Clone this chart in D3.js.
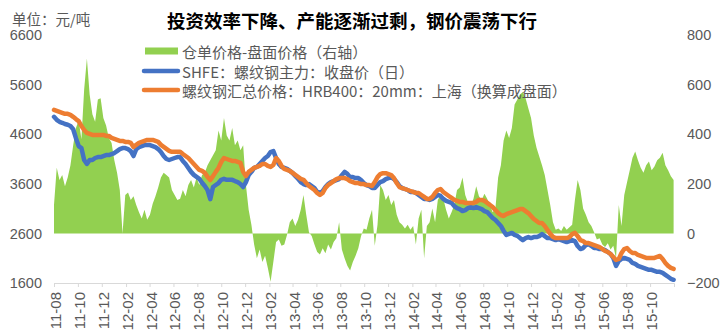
<!DOCTYPE html>
<html>
<head>
<meta charset="utf-8">
<script src="https://cdn.jsdelivr.net/npm/d3@7"></script>
<style>
  html, body { margin: 0; padding: 0; background: #fff; }
  svg { display: block; }
  .cjk { font-family: "Noto Sans CJK SC", sans-serif; }
  .num { font-family: "Liberation Sans", Arial, sans-serif; }
</style>
</head>
<body>
<svg id="chart" width="725" height="336"></svg>
<script>
// Weekly observations, first Monday of Aug 2011 through the end of Nov 2015
const firstWeek = new Date(2011, 7, 1);
const lastWeekEnd = new Date(2015, 11, 1);
const weeks = d3.timeMonday.range(firstWeek, lastWeekEnd);

// 仓单价格-盘面价格 (right axis, 元/吨)
const spread = [
  115, 265, 215, 235, 190, 225, 275, 355, 425, 455,
  380, 580, 705, 560, 480, 450, 540, 545, 465, 435,
  385, 365, 295, 245, 175, 0, 155, 165, 135, 150,
  115, 85, 60, 95, 55, 75, 120, 150, 185, 225,
  245, 235, 225, 175, 155, 135, 140, 175, 150, 195,
  215, 185, 225, 195, 235, 245, 275, 295, 315, 335,
  415, 375, 465, 395, 375, 425, 355, 375, 335, 355,
  195, 95, 35, -45, -100, -65, -115, -90, -140, -195,
  -115, -35, -25, -50, -45, -5, 45, 60, 30, 55,
  95, 155, 75, 5, -10, -45, -75, -85, -60, -80,
  -45, -65, -35, -20, 45, -65, -100, -130, -150, -115,
  -90, -60, -10, 20, 15, 60, 95, -50, 35, 195,
  175, 135, 155, 115, 135, 75, 45, 35, 20, 35,
  15, 30, -45, 60, 95, -100, 30, 45, 100, 45,
  135, 155, 140, 95, 60, 85, 115, 175, 185, 225,
  155, 125, 110, 140, 190, 150, 135, 160, 140, 115,
  85, 100, 225, 275, 375, 415, 385, 425, 520, 540,
  560, 570, 545, 505, 465, 395, 345, 310, 275, 235,
  175, 115, 45, 15, 20, 10, 30, 15, 25, 35,
  135, 215, 175, 100, 75, 45, 30, 5, -25, -20,
  -45, -55, -40, -65, -50, -100, 115, 30, 155, 205,
  255, 305, 330, 295, 265, 245, 275, 290, 255, 270,
  295, 305, 325, 275, 255, 230, 215
];

// SHFE 螺纹钢主力 收盘价 (left axis, 元/吨)
const shfeClose = [
  4950, 4890, 4850, 4830, 4805, 4790, 4765, 4700, 4520, 4360,
  4320, 4080, 4000, 4080, 4080, 4120, 4140, 4140, 4160, 4180,
  4180, 4200, 4220, 4260, 4300, 4320, 4320, 4300, 4260, 4160,
  4300, 4340, 4360, 4380, 4380, 4380, 4360, 4340, 4300, 4240,
  4160, 4100, 4080, 4100, 4120, 4140, 4140, 4060, 4000, 3920,
  3840, 3780, 3740, 3700, 3620, 3555, 3475, 3290, 3535, 3575,
  3615, 3680, 3700, 3680, 3680, 3680, 3655, 3635, 3595, 3535,
  3635, 3775, 3840, 3920, 3940, 4000, 4060, 4120, 4160, 4240,
  4260, 4120, 4000, 3940, 3920, 3900, 3860, 3820, 3760, 3700,
  3635, 3595, 3575, 3595, 3555, 3515, 3435, 3415, 3455, 3535,
  3595, 3635, 3655, 3675, 3695, 3775, 3840, 3800, 3735, 3735,
  3715, 3715, 3675, 3615, 3575, 3555, 3515, 3515, 3575, 3635,
  3655, 3695, 3715, 3735, 3695, 3635, 3555, 3515, 3495, 3475,
  3435, 3435, 3415, 3375, 3335, 3295, 3295, 3275, 3295, 3335,
  3375, 3355, 3295, 3255, 3235, 3215, 3150, 3110, 3090, 3050,
  3070, 3110, 3130, 3110, 3130, 3110, 3090, 3050, 3030, 2970,
  2910, 2870, 2810, 2750, 2650, 2570, 2590, 2610, 2570, 2550,
  2505, 2465, 2505, 2525, 2505, 2525, 2525, 2545, 2585, 2545,
  2505, 2505, 2485, 2465, 2485, 2465, 2445, 2425, 2445, 2465,
  2445, 2345, 2285, 2305, 2365, 2385, 2345, 2305, 2305, 2285,
  2285, 2265, 2225, 2185, 2105, 1945, 2045, 2085, 2105, 2085,
  2065, 2005, 1985, 1945, 1925, 1905, 1885, 1865, 1865, 1845,
  1825, 1825, 1805, 1765, 1725, 1685, 1665
];

// 螺纹钢汇总价格 HRB400 20mm 上海, converted to futures basis (left axis)
const spotPrice = [
  5090, 5070, 5050, 5030, 5010, 5010, 4990, 4950, 4905, 4865,
  4765, 4685, 4625, 4605, 4585, 4585, 4585, 4585, 4585, 4565,
  4565, 4525, 4505, 4485, 4465, 4465, 4445, 4445, 4425, 4340,
  4385, 4425, 4445, 4465, 4485, 4485, 4485, 4465, 4445, 4385,
  4345, 4305, 4265, 4245, 4245, 4245, 4245, 4200, 4160, 4120,
  4060, 4000, 3940, 3880, 3860, 3820, 3740, 3675, 3755, 3840,
  3920, 4040, 4120, 4100, 4080, 4060, 4060, 4040, 4020, 3840,
  3755, 3840, 3880, 3920, 3940, 3960, 4000, 4000, 3960, 3940,
  3980, 4120, 4060, 3960, 3900, 3880, 3860, 3820, 3780, 3740,
  3700, 3680, 3615, 3555, 3515, 3475, 3415, 3375, 3415, 3515,
  3575, 3615, 3655, 3695, 3715, 3715, 3715, 3695, 3655, 3635,
  3615, 3615, 3595, 3595, 3575, 3575, 3555, 3635, 3735, 3795,
  3815, 3815, 3795, 3775, 3715, 3615, 3535, 3515, 3495, 3475,
  3455, 3435, 3415, 3415, 3375, 3335, 3295, 3295, 3335, 3415,
  3475, 3495, 3435, 3395, 3355, 3315, 3275, 3255, 3235, 3235,
  3215, 3215, 3215, 3215, 3235, 3275, 3275, 3255, 3215, 3175,
  3130, 3070, 3010, 2970, 2950, 2990, 3010, 3030, 3050, 3070,
  3090, 3090, 3050, 3010, 2950, 2890, 2850, 2810, 2810, 2750,
  2670, 2590, 2530, 2505, 2505, 2505, 2505, 2505, 2525, 2585,
  2610, 2545, 2465, 2445, 2405, 2405, 2385, 2365, 2345, 2325,
  2285, 2245, 2225, 2185, 2125, 2065, 2085, 2205, 2285, 2305,
  2245, 2205, 2205, 2165, 2145, 2125, 2105, 2105, 2105, 2105,
  2125, 2145, 2085, 2005, 1945, 1905, 1885
];

const leftTicks = [1600, 2600, 3600, 4600, 5600, 6600];
const rightTicks = [-200, 0, 200, 400, 600, 800];
// two-month date ticks, 2011-08 .. 2015-10
const monthTicks = d3.timeMonth.range(new Date(2011, 7, 1), new Date(2015, 10, 1), 2);

const titleText = "投资效率下降、产能逐渐过剩，钢价震荡下行";
const unitText = "单位：元/吨";
const seriesNames = ["仓单价格-盘面价格（右轴）", "SHFE：螺纹钢主力：收盘价（日）", "螺纹钢汇总价格：HRB400：20mm：上海（换算成盘面）"];
const seriesColors = ["#92D050", "#4472C4", "#ED7D31"];

const svg = d3.select("#chart");
const textGray = "#595959";

const x = d3.scaleTime().domain([firstWeek, lastWeekEnd]).range([54, 674]);
const yL = d3.scaleLinear().domain([1600, 6600]).range([283, 35]);
const yR = d3.scaleLinear().domain([-200, 800]).range([283, 35]);

// spread area around the zero line of the right axis
svg.append("path")
  .datum(spread)
  .attr("fill", seriesColors[0])
  .attr("d", d3.area()
    .x((d, i) => x(weeks[i]))
    .y0(yR(0))
    .y1(d => yR(d)));

const priceLine = d3.line()
  .x((d, i) => x(weeks[i]))
  .y(d => yL(d));

svg.append("path")
  .datum(shfeClose)
  .attr("fill", "none")
  .attr("stroke", seriesColors[1])
  .attr("stroke-width", 4.5)
  .attr("stroke-linejoin", "round")
  .attr("stroke-linecap", "round")
  .attr("d", priceLine);

svg.append("path")
  .datum(spotPrice)
  .attr("fill", "none")
  .attr("stroke", seriesColors[2])
  .attr("stroke-width", 4.5)
  .attr("stroke-linejoin", "round")
  .attr("stroke-linecap", "round")
  .attr("d", priceLine);

// bottom date axis
const xAxis = svg.append("g")
  .attr("transform", "translate(0,283)")
  .call(d3.axisBottom(x)
    .tickValues(monthTicks)
    .tickFormat(d3.timeFormat("%y-%m"))
    .tickSize(4)
    .tickSizeOuter(4));
xAxis.selectAll("path, line").attr("stroke", "#d9d9d9");
xAxis.selectAll("text")
  .attr("class", "num")
  .attr("fill", textGray)
  .attr("font-size", 15)
  .attr("transform", "rotate(-90)")
  .attr("text-anchor", "end")
  .attr("dominant-baseline", "central")
  .attr("x", -9)
  .attr("y", 1)
  .attr("dy", null);

// left value axis
const leftAxis = svg.append("g")
  .attr("transform", "translate(42,0)")
  .call(d3.axisLeft(yL).tickValues(leftTicks).tickFormat(d3.format("d")).tickSize(0).tickPadding(0));
leftAxis.select(".domain").remove();
leftAxis.selectAll("text")
  .attr("class", "num")
  .attr("fill", textGray)
  .attr("font-size", 14.5);

// right value axis
const rightAxis = svg.append("g")
  .attr("transform", "translate(687,0)")
  .call(d3.axisRight(yR).tickValues(rightTicks).tickFormat(d3.format("d")).tickSize(0).tickPadding(0));
rightAxis.select(".domain").remove();
rightAxis.selectAll("text")
  .attr("class", "num")
  .attr("fill", textGray)
  .attr("font-size", 14.5);

// title and unit
svg.append("text")
  .attr("class", "cjk")
  .attr("x", 352).attr("y", 20)
  .attr("text-anchor", "middle")
  .attr("dominant-baseline", "central")
  .attr("font-size", 18.5)
  .attr("font-weight", "bold")
  .attr("fill", "#000")
  .text(titleText);

svg.append("text")
  .attr("class", "cjk")
  .attr("x", 12).attr("y", 18)
  .attr("dominant-baseline", "central")
  .attr("font-size", 14.5)
  .attr("fill", textGray)
  .text(unitText);

// legend
const legend = svg.append("g");
const rowY = [51, 71, 90];
seriesNames.forEach((name, i) => {
  if (i === 0) {
    legend.append("rect")
      .attr("x", 145).attr("y", rowY[i] - 3.5)
      .attr("width", 33).attr("height", 7)
      .attr("fill", seriesColors[i]);
  } else {
    legend.append("line")
      .attr("x1", 144).attr("x2", 178)
      .attr("y1", rowY[i]).attr("y2", rowY[i])
      .attr("stroke", seriesColors[i])
      .attr("stroke-width", 4.5)
      .attr("stroke-linecap", "round");
  }
  legend.append("text")
    .attr("class", "cjk")
    .attr("x", 182).attr("y", rowY[i])
    .attr("dominant-baseline", "central")
    .attr("font-size", 15)
    .attr("fill", textGray)
    .text(name);
});
</script>
</body>
</html>
